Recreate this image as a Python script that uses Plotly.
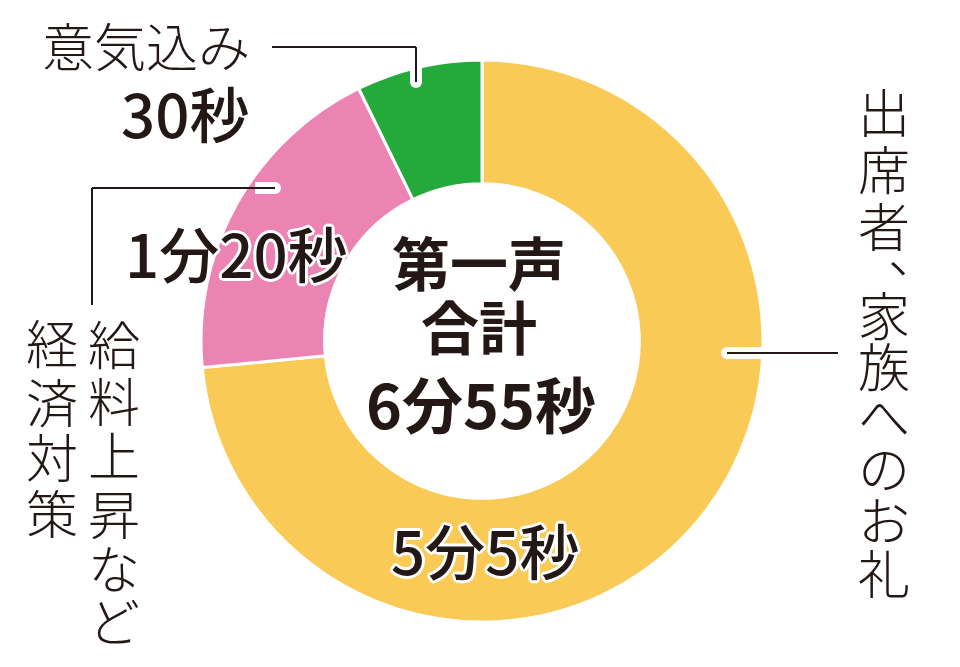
import plotly.graph_objects as go

# ---- data ----
categories = ["出席者、家族へのお礼", "給料上昇など経済対策", "意気込み"]
seconds = [305, 80, 30]
value_labels = ["5分5秒", "1分20秒", "30秒"]
colors = ["#F9CA55", "#EB83B3", "#23AA3A"]
center_lines = ["第一声", "合計", "6分55秒"]

W, H = 960, 667
INK = "#231815"
FONT = "Noto Sans CJK JP"
OUTLINE = ("3px 0 0 #fff, -3px 0 0 #fff, 0 3px 0 #fff, 0 -3px 0 #fff, "
           "2px 2px 0 #fff, -2px -2px 0 #fff, 2px -2px 0 #fff, -2px 2px 0 #fff")

# pie geometry in pixels
cx, cy, R = 482, 341, 281

fig = go.Figure()
fig.add_trace(go.Pie(
    labels=categories, values=seconds, sort=False, direction="clockwise",
    rotation=0, hole=0.56, textinfo="none", hoverinfo="label+value",
    marker=dict(colors=colors, line=dict(color="white", width=3)),
    domain=dict(x=[(cx - R) / W, (cx + R) / W], y=[1 - (cy + R) / H, 1 - (cy - R) / H]),
    showlegend=False,
))

# invisible pixel-space axes for labels and leader lines
fig.add_trace(go.Scatter(x=[0, W], y=[0, H], mode="markers", marker=dict(opacity=0),
                         hoverinfo="skip", showlegend=False))

ann = []

def text(x, y, s, size, weight=400, shadow=None):
    f = dict(family=FONT, size=size, color=INK, weight=weight)
    if shadow:
        f["shadow"] = shadow
    ann.append(dict(x=x, y=y, xref="x", yref="y", text=s, showarrow=False,
                    font=f, xanchor="center", yanchor="middle"))

# center text
text(479, 261, center_lines[0], 58, 700)
text(479, 325, center_lines[1], 58, 700)
text(481, 402, center_lines[2], 61, 700)

# value labels
text(485, 548, value_labels[0], 60, 500, OUTLINE)
text(236, 251, value_labels[1], 60, 500, OUTLINE)
text(185, 111, value_labels[2], 60, 500)

# 意気込み label
text(146, 44, categories[2], 52, 300)

# vertical label right: 出席者、家族へのお礼
right_chars = list(categories[0])
right_y = [110, 167, 224, 250, 313, 364, 414, 466, 518, 571]
for ch, yy in zip(right_chars, right_y):
    if ch == "、":
        text(914, yy, ch, 52, 300)
    else:
        text(884, yy, ch, 52, 300)

# vertical label left: 給料上昇など / 経済対策
left1 = list(categories[1][:6])
left1_y = [342, 399, 453, 512, 566, 619]
for ch, yy in zip(left1, left1_y):
    text(114, yy, ch, 52, 300)
left2 = list(categories[1][6:])
left2_y = [341, 400, 455, 511]
for ch, yy in zip(left2, left2_y):
    text(52, yy, ch, 52, 300)

shapes = []

def seg(x0, y0, x1, y1, color, width):
    shapes.append(dict(type="line", xref="x", yref="y", x0=x0, y0=y0, x1=x1, y1=y1,
                       line=dict(color=color, width=width), layer="above"))

def knob(x, y):
    r = 6
    shapes.append(dict(type="circle", xref="x", yref="y", x0=x - r, y0=y - r, x1=x + r, y1=y + r,
                       fillcolor="white", line=dict(width=0), layer="above"))

# green leader
seg(416, 62, 416, 82, "white", 12); knob(416, 82)
seg(272, 47, 416, 47, INK, 2)
seg(416, 47, 416, 82, INK, 2)
# pink leader
seg(255, 188, 275, 188, "white", 12); knob(275, 188)
seg(92, 188, 275, 188, INK, 2)
seg(92, 188, 92, 305, INK, 2)
# yellow leader
seg(727, 353, 765, 353, "white", 12); knob(727, 353)
seg(727, 353, 838, 353, INK, 2)

fig.update_layout(
    width=W, height=H, margin=dict(l=0, r=0, t=0, b=0),
    paper_bgcolor="white", plot_bgcolor="rgba(0,0,0,0)",
    xaxis=dict(range=[0, W], visible=False, fixedrange=True, domain=[0, 1]),
    yaxis=dict(range=[H, 0], visible=False, fixedrange=True, domain=[0, 1]),
    annotations=ann, shapes=shapes, showlegend=False,
)

fig.write_html("out.html", config={"displayModeBar": False},
               post_script="document.body.style.margin='0';document.body.style.overflow='hidden';")
